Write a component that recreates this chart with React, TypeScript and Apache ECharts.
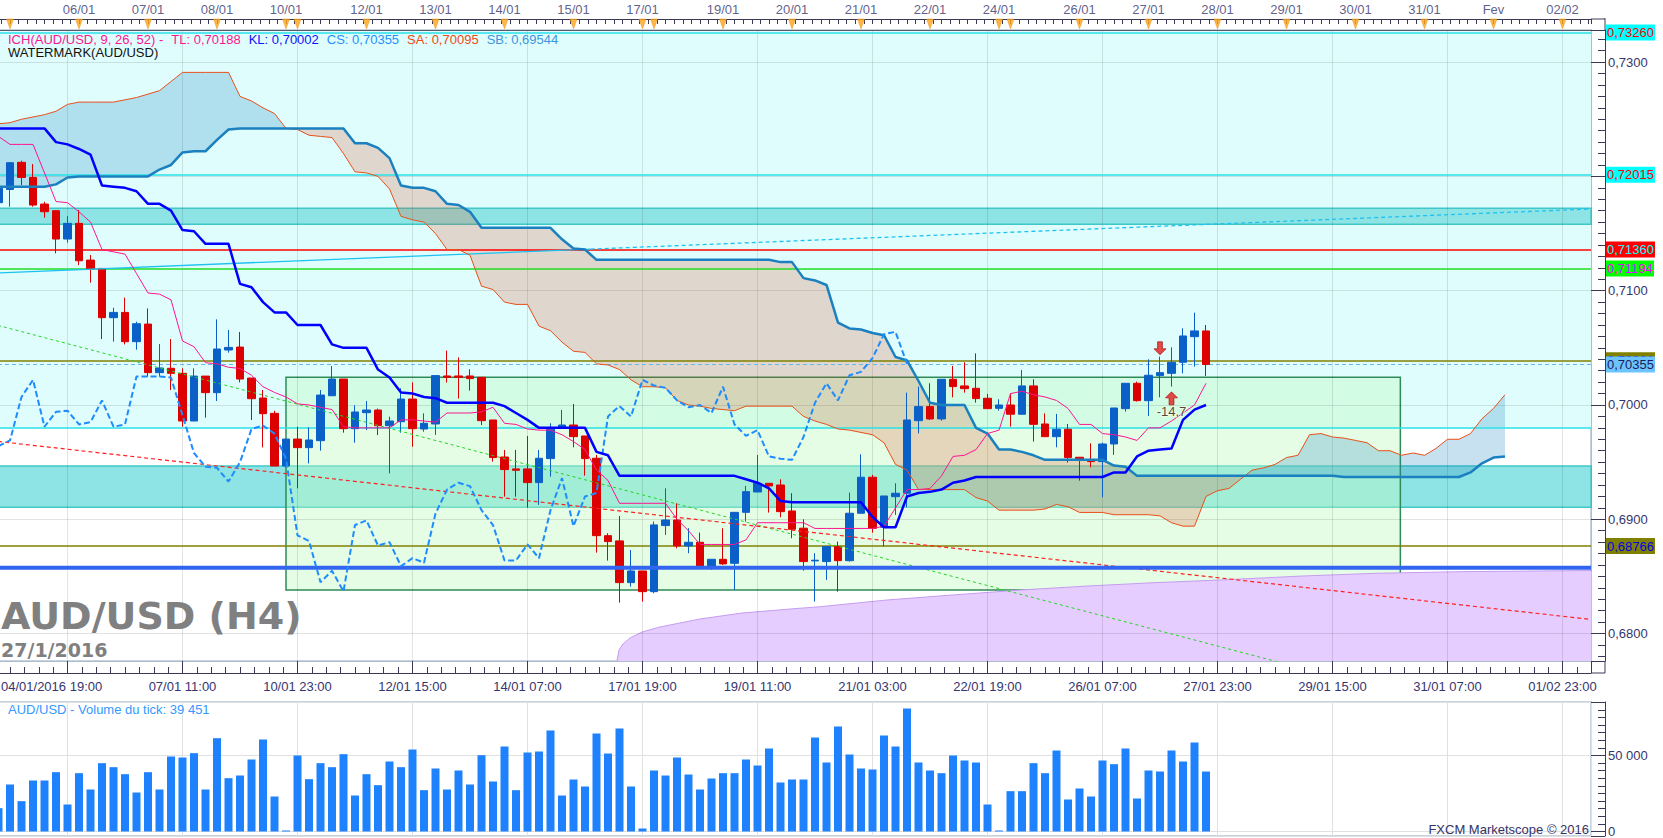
import React, { useEffect, useRef } from "react";
import * as echarts from "echarts";

// ---------------- data ----------------
// candle index of the first (partly hidden) candle
const FIRST_BAR = -1;

const candleOpen = [
  0.7177, 0.71886, 0.72123, 0.71991, 0.71758, 0.717, 0.71452, 0.71589, 0.71268, 0.71195,
  0.70764, 0.7081, 0.70554, 0.70708, 0.70283, 0.70321, 0.70277, 0.6986, 0.70253, 0.70108,
  0.70481, 0.70507, 0.70236, 0.70061, 0.69927, 0.69466, 0.69702, 0.69627, 0.69688, 0.70081,
  0.70227, 0.69793, 0.69933, 0.69956, 0.69819, 0.69854, 0.70052, 0.6979, 0.69834, 0.70254,
  0.70254, 0.70254, 0.70242, 0.69869, 0.69545, 0.69441, 0.69441, 0.69321, 0.69531, 0.69796,
  0.69825, 0.69729, 0.69534, 0.68857, 0.68811, 0.68446, 0.68548, 0.68367, 0.68945, 0.68994,
  0.68767, 0.68799, 0.68592, 0.6865, 0.68615, 0.69061, 0.69239, 0.69315, 0.693, 0.69073,
  0.68922, 0.68636, 0.6863, 0.68761, 0.68638, 0.69053, 0.69368, 0.6893, 0.69198, 0.69228,
  0.69863, 0.69986, 0.69878, 0.70225, 0.70167, 0.70146, 0.70059, 0.69971, 0.7, 0.69919,
  0.70167, 0.69834, 0.69723, 0.69788, 0.69543, 0.69519, 0.69505, 0.69659, 0.69968, 0.7019,
  0.70038, 0.70257, 0.70277, 0.70374, 0.70598, 0.70648,
];
const candleClose = [
  0.71895, 0.7212, 0.71991, 0.71749, 0.71691, 0.71452, 0.71589, 0.71262, 0.7119, 0.70764,
  0.7081, 0.70554, 0.70711, 0.70283, 0.70324, 0.70277, 0.6986, 0.70253, 0.70108, 0.7049,
  0.70504, 0.70227, 0.70055, 0.69924, 0.69466, 0.69702, 0.69627, 0.69694, 0.70087, 0.70227,
  0.69793, 0.69939, 0.69956, 0.69819, 0.6986, 0.70052, 0.69793, 0.6984, 0.70257, 0.70242,
  0.70242, 0.70231, 0.69863, 0.6954, 0.69435, 0.69429, 0.69321, 0.69534, 0.69788, 0.69825,
  0.69723, 0.69531, 0.68857, 0.68805, 0.68446, 0.68548, 0.68367, 0.68951, 0.68994, 0.68767,
  0.68799, 0.68592, 0.6865, 0.6861, 0.69061, 0.69242, 0.69315, 0.69292, 0.69067, 0.68913,
  0.6863, 0.68642, 0.68761, 0.68638, 0.69053, 0.69368, 0.68921, 0.69204, 0.69228, 0.69869,
  0.69986, 0.69878, 0.70225, 0.70161, 0.70143, 0.70056, 0.69968, 0.7, 0.69919, 0.70167,
  0.69831, 0.69723, 0.69788, 0.6954, 0.69525, 0.69505, 0.69659, 0.69974, 0.7019, 0.70038,
  0.7026, 0.70283, 0.70374, 0.70604, 0.70648, 0.70355,
];
const candleLow = [
  0.7172, 0.71735, 0.71924, 0.71735, 0.71639, 0.71327, 0.7142, 0.71224, 0.7107, 0.70577,
  0.70554, 0.7053, 0.70484, 0.70248, 0.70248, 0.70131, 0.6981, 0.6986, 0.69889, 0.70035,
  0.70458, 0.70198, 0.69869, 0.69629, 0.69466, 0.69466, 0.69271, 0.69489, 0.696, 0.70081,
  0.69758, 0.6967, 0.69781, 0.69737, 0.69402, 0.69758, 0.69635, 0.69767, 0.69738, 0.70196,
  0.70056, 0.70126, 0.69825, 0.69505, 0.69198, 0.69198, 0.69102, 0.69126, 0.69373, 0.69796,
  0.6963, 0.69382, 0.68708, 0.68639, 0.68271, 0.68411, 0.6828, 0.68353, 0.68863, 0.68746,
  0.68703, 0.68592, 0.68557, 0.68601, 0.68382, 0.6898, 0.69239, 0.69059, 0.69018, 0.68834,
  0.68551, 0.6828, 0.6847, 0.68367, 0.6863, 0.69053, 0.68883, 0.68761, 0.69038, 0.69105,
  0.69752, 0.69869, 0.69863, 0.70067, 0.70108, 0.70021, 0.69968, 0.69951, 0.69811, 0.69919,
  0.6968, 0.69723, 0.6963, 0.69496, 0.69338, 0.69455, 0.69193, 0.69563, 0.69942, 0.7003,
  0.69904, 0.70067, 0.70161, 0.70277, 0.70336, 0.70254,
];
const candleHigh = [
  0.7192, 0.72125, 0.72137, 0.72108, 0.71778, 0.717, 0.71653, 0.71706, 0.71312, 0.71195,
  0.70851, 0.70939, 0.70729, 0.70845, 0.70533, 0.70577, 0.70321, 0.70321, 0.70253, 0.70749,
  0.70656, 0.70638, 0.70236, 0.70131, 0.6995, 0.69702, 0.6981, 0.69805, 0.70131, 0.70341,
  0.70227, 0.69997, 0.70035, 0.69968, 0.69898, 0.70146, 0.70198, 0.69927, 0.70257, 0.70476,
  0.70417, 0.70312, 0.70242, 0.69869, 0.69607, 0.69607, 0.69729, 0.69607, 0.6984, 0.69957,
  0.70009, 0.69729, 0.69563, 0.68878, 0.69029, 0.68732, 0.68548, 0.6898, 0.69271, 0.6914,
  0.68922, 0.68884, 0.6865, 0.68922, 0.69061, 0.69292, 0.69563, 0.69315, 0.6935, 0.69228,
  0.69, 0.68703, 0.68761, 0.68805, 0.69234, 0.69569, 0.69388, 0.69204, 0.69315, 0.70108,
  0.70161, 0.7019, 0.70225, 0.70342, 0.70374, 0.70452, 0.70097, 0.7005, 0.70102, 0.70307,
  0.70225, 0.69927, 0.69922, 0.69834, 0.69543, 0.69665, 0.69671, 0.69974, 0.7019, 0.70205,
  0.704, 0.70423, 0.70505, 0.70671, 0.70808, 0.707,
];
const tickVolume = [
  15350, 30920, 19960, 33550, 33550, 39040, 17760, 38380, 27630, 44960,
  42320, 37720, 25660, 39040, 27630, 49340, 48680, 51540, 27630, 61400,
  35090, 36840, 47370, 60530, 23030, 660, 50000, 34430, 44960, 42320,
  50880, 23680, 37720, 30480, 46050, 42320, 53950, 27190, 41450, 27630,
  40130, 30920, 50220, 32900, 55920, 27190, 51970, 52630, 66450, 23680,
  34210, 29610, 64470, 51320, 67760, 29610, 1970, 40130, 36840, 48680,
  37500, 27630, 34870, 38380, 38380, 47370, 43420, 54610, 32240, 34210,
  34210, 61840, 45400, 69080, 50660, 41450, 40790, 63160, 55920, 80920,
  45400, 40130, 38380, 50000, 46710, 45400, 17760, 660, 26540, 26540,
  44960, 38380, 53290, 21050, 28290, 23030, 46710, 44300, 54610, 21710,
  40130, 39470, 53290, 46050, 58550, 39451,
];
const tenkanSen = [
  0.7235, 0.7228, 0.7228, 0.7228, 0.7203, 0.7178, 0.7177, 0.7169, 0.716, 0.7136,
  0.7134, 0.7132, 0.7115, 0.7098, 0.7097, 0.7092, 0.7056, 0.7051, 0.7037, 0.7036,
  0.7033, 0.7032, 0.7026, 0.7016, 0.7011, 0.7007, 0.7001, 0.7, 0.6998, 0.6996,
  0.6981, 0.698, 0.698, 0.698, 0.698, 0.6987, 0.6987, 0.6986, 0.6985, 0.6993,
  0.6993, 0.6993, 0.6994, 0.6998, 0.6984, 0.6983, 0.6979, 0.6978, 0.6978, 0.6974,
  0.6968, 0.6961, 0.6943, 0.6934, 0.6914, 0.6914, 0.6914, 0.6914, 0.6914, 0.69,
  0.689, 0.6878, 0.6878, 0.6878, 0.6878, 0.6882, 0.6897, 0.6897, 0.6897, 0.6897,
  0.6897, 0.6892, 0.6892, 0.6892, 0.6892, 0.6892, 0.6892, 0.6894, 0.691, 0.6926,
  0.6926, 0.6927, 0.6938, 0.6955, 0.6956, 0.6961, 0.6975, 0.6978, 0.701, 0.7012,
  0.7009, 0.7007, 0.7004, 0.6997, 0.6983, 0.6983, 0.6975, 0.6974, 0.6972, 0.6969,
  0.698, 0.698, 0.6986, 0.6993, 0.7, 0.7019,
];
const kijunSen = [
  0.7242, 0.7242, 0.7242, 0.7242, 0.7242, 0.723, 0.7228, 0.7224, 0.7219, 0.7192,
  0.7191, 0.719, 0.7187, 0.7176, 0.7176, 0.717, 0.7153, 0.7152, 0.7141, 0.7141,
  0.7141, 0.7106, 0.7103, 0.709, 0.7081, 0.7081, 0.707, 0.707, 0.707, 0.7053,
  0.705, 0.705, 0.705, 0.7031, 0.7024, 0.7011, 0.701, 0.7007, 0.7006, 0.7002,
  0.7002, 0.7002, 0.7002, 0.7002, 0.6999, 0.6993, 0.6987, 0.698, 0.698, 0.698,
  0.698, 0.698, 0.6959, 0.6956, 0.6938, 0.6938, 0.6938, 0.6938, 0.6938, 0.6938,
  0.6938, 0.6938, 0.6938, 0.6938, 0.6938, 0.6935, 0.6932, 0.6927, 0.6916, 0.6915,
  0.6915, 0.6915, 0.6915, 0.6915, 0.6915, 0.6915, 0.6902, 0.6893, 0.6893, 0.692,
  0.6923, 0.6924, 0.6926, 0.6932, 0.6934, 0.6937, 0.6937, 0.6937, 0.6937, 0.6937,
  0.6937, 0.6937, 0.6937, 0.6937, 0.6937, 0.6937, 0.6937, 0.6941, 0.6941, 0.6955,
  0.696, 0.6961, 0.6962, 0.6987, 0.6996, 0.7,
];
const chikouSpan = [
  0.6964, 0.6969, 0.7007, 0.7022, 0.6981, 0.6994, 0.6995, 0.6983, 0.6985, 0.7004,
  0.6981, 0.6983, 0.7025, 0.7025, 0.7025, 0.7024, 0.6991, 0.6958, 0.6946, 0.6945,
  0.6933, 0.695, 0.6979, 0.6982, 0.6975, 0.6953, 0.6886, 0.6881, 0.6845, 0.6855,
  0.6837, 0.6895, 0.6899, 0.6877, 0.688, 0.6859, 0.6866, 0.6862, 0.6905, 0.6926,
  0.6932, 0.6929, 0.6908, 0.6895, 0.6864, 0.6864, 0.6878, 0.6866, 0.6908, 0.6936,
  0.6894, 0.692, 0.6923, 0.699, 0.6999, 0.699, 0.7022, 0.7017, 0.7015, 0.7004,
  0.6998, 0.7, 0.6993, 0.7016, 0.6983, 0.6973, 0.6978, 0.6955, 0.6953, 0.6952,
  0.6972, 0.7002, 0.7019, 0.7004, 0.7026, 0.7029, 0.7041, 0.7062, 0.7064, 0.7036,
];
const senkouA = [
  0.7246, 0.7247, 0.725, 0.7252, 0.7254, 0.7257, 0.7263, 0.7265, 0.7265, 0.7265,
  0.7265, 0.7267, 0.7269, 0.7272, 0.7275, 0.7283, 0.7291, 0.7291, 0.7291, 0.7291,
  0.7291, 0.727, 0.7266, 0.726, 0.7255, 0.7242, 0.7241, 0.7236, 0.7235, 0.7234,
  0.722, 0.7204, 0.7203, 0.72, 0.7189, 0.7165, 0.7162, 0.716, 0.715, 0.7136,
  0.7136, 0.7131, 0.7104, 0.7101, 0.709, 0.7088, 0.7088, 0.7069, 0.7065, 0.7055,
  0.7047, 0.7046, 0.7036, 0.7035, 0.7031, 0.7022, 0.7016, 0.7016, 0.7015, 0.7004,
  0.7, 0.6999, 0.6997, 0.6996, 0.6995, 0.6999, 0.6999, 0.6999, 0.6999, 0.6999,
  0.699, 0.6986, 0.6983, 0.6979, 0.6978, 0.6976, 0.6974, 0.6967, 0.6948, 0.6943,
  0.6926, 0.6926, 0.6926, 0.6926, 0.6926, 0.6919, 0.6916, 0.6908, 0.6908, 0.6908,
  0.6908, 0.6909, 0.6913, 0.6911, 0.6906, 0.6906, 0.6906, 0.6904, 0.6904, 0.6904,
  0.6904, 0.6903, 0.6897, 0.6894, 0.6894, 0.692, 0.6925, 0.6927, 0.6935, 0.6943,
  0.6945, 0.6948, 0.6954, 0.6956, 0.6974, 0.6975, 0.6972, 0.6971, 0.6969, 0.6967,
  0.696, 0.696, 0.6956, 0.6958, 0.6956, 0.6962, 0.697, 0.697, 0.6975, 0.6988,
  0.6997, 0.7009,
];
const senkouB = [
  0.7191, 0.7191, 0.7191, 0.7191, 0.7191, 0.7193, 0.7199, 0.72, 0.72, 0.72,
  0.72, 0.72, 0.72, 0.72, 0.7206, 0.721, 0.7221, 0.7222, 0.7222, 0.7232,
  0.7241, 0.7242, 0.7242, 0.7242, 0.7242, 0.7242, 0.7242, 0.7242, 0.7242, 0.7242,
  0.7242, 0.7229, 0.7229, 0.7225, 0.7216, 0.7192, 0.719, 0.719, 0.7187, 0.7176,
  0.7175, 0.7169, 0.7155, 0.7155, 0.7155, 0.7155, 0.7155, 0.7155, 0.7155, 0.7145,
  0.7137, 0.7136, 0.7127, 0.7127, 0.7127, 0.7127, 0.7127, 0.7127, 0.7127, 0.7127,
  0.7127, 0.7127, 0.7127, 0.7127, 0.7127, 0.7127, 0.7127, 0.7127, 0.7125, 0.7125,
  0.7111, 0.7109, 0.7105, 0.7072, 0.7067, 0.7066, 0.7063, 0.7061, 0.7042, 0.7039,
  0.7021, 0.7002, 0.7, 0.7, 0.7, 0.698, 0.6975, 0.6961, 0.6961, 0.6959,
  0.6956, 0.6952, 0.6952, 0.6952, 0.6952, 0.6952, 0.6952, 0.6947, 0.6946, 0.6938,
  0.6938, 0.6938, 0.6938, 0.6938, 0.6938, 0.6938, 0.6938, 0.6938, 0.6938, 0.6938,
  0.6938, 0.6938, 0.6938, 0.6938, 0.6938, 0.6938, 0.6938, 0.6937, 0.6937, 0.6937,
  0.6937, 0.6937, 0.6937, 0.6937, 0.6937, 0.6937, 0.6937, 0.6937, 0.6941, 0.6949,
  0.6954, 0.6955,
];

// day markers of the upper time scale (candle index of each day's first candle)
const dayStartBars = [0, 6, 12, 18, 24, 25, 31, 37, 43, 49, 55, 56, 62, 68, 74, 80, 86, 87, 93, 99, 105, 111, 117, 123, 129, 135];
const dayLabels = ["", "06/01", "07/01", "08/01", "10/01", "", "12/01", "13/01", "14/01", "15/01", "17/01", "", "19/01", "20/01", "21/01", "22/01", "24/01", "", "26/01", "27/01", "28/01", "29/01", "30/01", "31/01", "Fev", "02/02"];
// lower time scale labels, one every 10 candles starting at candle 5
const firstTimeLabel = "04/01/2016 19:00";
const timeLabels = ["", "07/01 11:00", "10/01 23:00", "12/01 15:00", "14/01 07:00", "17/01 19:00", "19/01 11:00", "21/01 03:00", "22/01 19:00", "26/01 07:00", "27/01 23:00", "29/01 15:00", "31/01 07:00", "01/02 23:00"];

// horizontal levels
const levelPrice = [0.7326, 0.72015, 0.698, 0.7136, 0.71194, 0.70391, 0.68766];
const levelHasLabel = [true, true, false, true, true, true, true];
const currentPrice = 0.70355;
const bandTop = [0.71721, 0.69466];
const bandBottom = [0.71581, 0.69105];
const zoneBottom = 0.698;
const blueLevel = 0.68577;

// trend lines [startBar, endBar] / [startPrice, endPrice]
const greenTrendBars = [-1.04, 137.48];
const greenTrendPrices = [0.70696, 0.67032];
const redTrendBars = [-1.04, 137.48];
const redTrendPrices = [0.69681, 0.68124];
const cyanTrendBars = [-1.04, 50.5, 137.48];
const cyanTrendPrices = [0.71156, 0.71364, 0.71715];

// watermark box and curved zone
const boxBars = [24, 120.9];
const boxPrices = [0.70242, 0.68381];
const purpleBars = [52.78, 52.96, 53.3, 53.91, 54.96, 56.52, 60, 63.65, 68.43, 70.43, 76.26, 82, 87.83, 93.65, 99.39, 105.22, 112.43, 118.87, 126.35, 137.83];
const purplePrices = [0.6776, 0.67856, 0.67909, 0.67961, 0.68014, 0.68058, 0.68128, 0.6818, 0.6822, 0.68235, 0.68294, 0.68338, 0.68381, 0.68416, 0.68445, 0.68469, 0.68504, 0.68528, 0.68542, 0.68552];

// signal arrows
const arrowDownBar = 100;
const arrowDownPrice = 0.70496;
const arrowUpBar = 101;
const arrowUpPrice = 0.70058;
const arrowText = "-14,7";

// ---------------- layout ----------------
const GRID_LEFT = -2;
const GRID_RIGHT = 72;
const PX0 = 10; // centre of candle 0
const PXW = 11.5; // candle spacing
const I_MIN = (GRID_LEFT - PX0) / PXW;
const I_MAX = (1663 - GRID_RIGHT - PX0) / PXW;
const U_OFF = 5;
const U_MIN = I_MIN + U_OFF;
const U_MAX = I_MAX + U_OFF;
const Y_MIN = 0.677603;
const Y_MAX = 0.732808;
const VOL_MIN = -2960;
const VOL_MAX = 85200;

const FONT = "Liberation Sans";
const AXC = "#3a3a58";
const LBL = "#35356e";
const BULL = "rgba(26,128,192,0.24)";
const BEAR = "rgba(224,72,27,0.21)";

const u = (i: number) => i + U_OFF;
const barU = (k: number) => u(FIRST_BAR + k);
const series2 = (arr: number[]) => arr.map((v, k) => [barU(k), v]);
const pairs = (bars: number[], prices: number[]) => bars.map((b, k) => [u(b), prices[k]]);

function fmtPrice(v: number) {
  const r = Math.round(v * 100) / 100;
  if (Math.abs(v - r) > 1e-7 || Math.abs(r - 0.72) < 1e-7) return "";
  return r.toFixed(4).replace(".", ",");
}
function fmtTime(v: number) {
  const k = Math.round(v / 10);
  if (Math.abs(v - k * 10) > 1e-6) return "";
  return timeLabels[k - 1] ?? "";
}
const p5 = (p: number) => p.toFixed(5).replace(".", ",");

function cloudRuns() {
  const runs: { sign: number; a: number[][]; b: number[][] }[] = [];
  let cur: { sign: number; a: number[][]; b: number[][] } | null = null;
  for (let k = 0; k < senkouA.length; k++) {
    const x = barU(k);
    const a = senkouA[k];
    const b = senkouB[k];
    const d = a - b;
    const s = d > 1e-9 ? 1 : d < -1e-9 ? -1 : 0;
    if (!cur) {
      cur = { sign: s, a: [[x, a]], b: [[x, b]] };
      continue;
    }
    if (cur.sign === 0) cur.sign = s;
    if (s !== 0 && cur.sign !== 0 && s !== cur.sign) {
      const x0 = barU(k - 1);
      const a0 = senkouA[k - 1];
      const d0 = a0 - senkouB[k - 1];
      const t = d0 / (d0 - d);
      const xc = x0 + t * (x - x0);
      const pc = a0 + t * (a - a0);
      cur.a.push([xc, pc]);
      cur.b.push([xc, pc]);
      runs.push(cur);
      cur = { sign: s, a: [[xc, pc], [x, a]], b: [[xc, pc], [x, b]] };
    } else {
      cur.a.push([x, a]);
      cur.b.push([x, b]);
    }
  }
  if (cur) runs.push(cur);
  return runs;
}

function buildOption(): any {
  const levelLine = ["#28e0e8", "#28e0e8", "#28e0e8", "#ff0000", "#22dd22", "#808000", "#808000"];
  const levelBg = ["#00ffff", "#00ffff", "", "#ff0000", "#00ff00", "#808000", "#808000"];
  const levelFg = ["#ff0000", "#ff0000", "", "#00ffff", "#ff00ff", "#0000ff", "#0000ee"];
  const mkLabel = (text: string, bg: string, fg: string) => ({
    show: true,
    position: "end",
    distance: 15,
    formatter: text,
    backgroundColor: bg,
    color: fg,
    padding: [2, 1, 1, 1],
    fontSize: 13,
    lineHeight: 13,
    fontFamily: FONT,
  });

  const titleStyle = (color: string, size = 13, weight = "normal", family = FONT) => ({
    color,
    fontSize: size,
    lineHeight: size,
    fontWeight: weight,
    fontFamily: family,
  });
  const axisLine = (x1: number, y1: number, x2: number, y2: number) => ({
    type: "line",
    silent: true,
    z: 20,
    shape: { x1, y1, x2, y2 },
    style: { stroke: AXC, lineWidth: 1 },
  });

  return {
    animation: false,
    backgroundColor: "#ffffff",
    textStyle: { fontFamily: FONT },
    title: [
      {
        left: 8,
        top: 33,
        padding: 0,
        text: "{p|ICH(AUD/USD, 9, 26, 52) -}{t|TL: 0,70188}{k|KL: 0,70002}{c|CS: 0,70355}{a|SA: 0,70095}{b|SB: 0,69544}",
        textStyle: {
          fontSize: 13,
          lineHeight: 13,
          fontWeight: "normal",
          rich: {
            p: titleStyle("#ff1493"),
            t: { ...titleStyle("#ff1493"), padding: [0, 0, 0, 8] },
            k: { ...titleStyle("#1010ff"), padding: [0, 0, 0, 8] },
            c: { ...titleStyle("#1e90ff"), padding: [0, 0, 0, 8] },
            a: { ...titleStyle("#f04a10"), padding: [0, 0, 0, 8] },
            b: { ...titleStyle("#3c96dc"), padding: [0, 0, 0, 8] },
          },
        },
      },
      { left: 8, top: 46, padding: 0, text: "WATERMARK(AUD/USD)", textStyle: titleStyle("#111111") },
      { left: 1, top: 597, padding: 0, text: "AUD/USD (H4)", textStyle: titleStyle("#808080", 38, "bold", "DejaVu Sans") },
      { left: 1, top: 640, padding: 0, text: "27/1/2016", textStyle: titleStyle("#808080", 19, "bold", "DejaVu Sans") },
      { left: 1, top: 680, padding: 0, text: firstTimeLabel, textStyle: titleStyle(LBL) },
      { left: 8, top: 703, padding: 0, text: "AUD/USD - Volume du tick: 39 451", textStyle: titleStyle("#3399ff") },
      { right: 74, top: 823, padding: 0, text: "FXCM Marketscope © 2016", textStyle: titleStyle("#333366") },
    ],
    graphic: [
      axisLine(1605, 18, 1605, 30),
      axisLine(1605, 661, 1605, 673),
      axisLine(1591, 673, 1605, 673),
      axisLine(1591, 19, 1605, 19),
    ],
    grid: [
      { left: GRID_LEFT, right: GRID_RIGHT, top: 30, bottom: 177, show: true, borderColor: "#c6d4e2", borderWidth: 2, backgroundColor: "transparent", outerBoundsMode: "none", containLabel: false },
      { left: GRID_LEFT, right: GRID_RIGHT, top: 702, bottom: 2, show: true, borderColor: "#c6d4e2", borderWidth: 2, backgroundColor: "transparent", outerBoundsMode: "none", containLabel: false },
    ],
    xAxis: [
      {
        type: "value", gridIndex: 0, position: "bottom", offset: 12, min: U_MIN, max: U_MAX, z: 3,
        splitNumber: 14, minInterval: 10, maxInterval: 10,
        axisLine: { show: true, onZero: false, lineStyle: { color: AXC, width: 1 } },
        axisTick: { show: true, inside: true, length: 12, lineStyle: { color: AXC } },
        minorTick: { show: true, splitNumber: 8, length: 6, lineStyle: { color: AXC } },
        axisLabel: { show: true, margin: 7, color: LBL, fontSize: 13, fontFamily: FONT, formatter: fmtTime, showMinLabel: true, showMaxLabel: true },
        splitLine: { show: true, lineStyle: { color: "rgba(0,0,0,0.11)", width: 1 } },
        minorSplitLine: { show: false },
      },
      {
        type: "value", gridIndex: 0, position: "top", offset: 11, min: I_MIN, max: I_MAX, z: 3,
        splitNumber: 184, minInterval: 0.75, maxInterval: 0.75,
        axisLine: { show: true, onZero: false, lineStyle: { color: AXC, width: 1 } },
        axisTick: { show: true, inside: true, length: 5, lineStyle: { color: AXC } },
        axisLabel: { show: false },
        splitLine: { show: false },
      },
      {
        type: "value", gridIndex: 0, position: "top", offset: 0, min: I_MIN, max: I_MAX, z: 3,
        axisLine: { show: true, onZero: false, lineStyle: { color: "#5a5a6a", width: 1 } },
        axisTick: { show: false },
        axisLabel: { show: false },
        splitLine: { show: false },
      },
      {
        type: "value", gridIndex: 1, position: "bottom", min: U_MIN, max: U_MAX, z: 3,
        splitNumber: 14, minInterval: 10, maxInterval: 10,
        axisLine: { show: false },
        axisTick: { show: false },
        axisLabel: { show: false },
        splitLine: { show: true, lineStyle: { color: "#e0e0e0", width: 1 } },
      },
    ],
    yAxis: [
      {
        type: "value", gridIndex: 0, position: "right", offset: 14, min: Y_MIN, max: Y_MAX, z: 3,
        splitNumber: 5, minInterval: 0.01, maxInterval: 0.01,
        axisLine: { show: true, onZero: false, lineStyle: { color: AXC, width: 1 } },
        axisTick: { show: true, inside: true, length: 14, lineStyle: { color: AXC } },
        minorTick: { show: true, splitNumber: 10, length: 7, lineStyle: { color: AXC } },
        axisLabel: { show: true, margin: 3, color: LBL, fontSize: 13, fontFamily: FONT, formatter: fmtPrice, showMinLabel: false, showMaxLabel: false },
        splitLine: { show: true, lineStyle: { color: "rgba(0,0,0,0.11)", width: 1 } },
      },
      {
        type: "value", gridIndex: 1, position: "right", offset: 14, min: VOL_MIN, max: VOL_MAX, z: 3,
        splitNumber: 2, minInterval: 50000, maxInterval: 50000,
        axisLine: { show: true, onZero: false, lineStyle: { color: AXC, width: 1 } },
        axisTick: { show: true, inside: true, length: 14, lineStyle: { color: AXC } },
        minorTick: { show: true, splitNumber: 10, length: 7, lineStyle: { color: AXC } },
        axisLabel: {
          show: true, margin: 3, color: LBL, fontSize: 13, fontFamily: FONT, showMinLabel: false, showMaxLabel: false,
          formatter: (v: number) => (Math.abs(v) < 1e-6 ? "0" : Math.abs(v - 50000) < 1e-6 ? "50 000" : ""),
        },
        splitLine: { show: true, lineStyle: { color: "#e0e0e0", width: 1 } },
      },
    ],
    series: [
      // background zones
      {
        type: "line", name: "zones", xAxisIndex: 0, yAxisIndex: 0, data: [], z: 0, silent: true,
        markArea: {
          silent: true,
          data: [
            [{ yAxis: zoneBottom, itemStyle: { color: "#e0fdfd" } }, { yAxis: Y_MAX }],
            ...bandTop.map((t, k) => [
              { yAxis: t, itemStyle: { color: "#8ee4e4", borderColor: "#40c8c8", borderWidth: 1.5 } },
              { yAxis: bandBottom[k] },
            ]),
          ],
        },
      },
      // curved zone
      {
        type: "line", name: "curve", xAxisIndex: 0, yAxisIndex: 0, z: 1, silent: true,
        data: pairs(purpleBars, purplePrices), symbol: "none",
        lineStyle: { color: "#c59cf0", width: 1 },
        areaStyle: { color: "#e6cdff", opacity: 1, origin: "start" },
      },
      // watermark box
      {
        type: "line", name: "box", xAxisIndex: 0, yAxisIndex: 0, data: [], z: 2, silent: true,
        markArea: {
          silent: true,
          data: [[
            { xAxis: u(boxBars[0]), yAxis: boxPrices[0], itemStyle: { color: "rgba(190,250,190,0.4)", borderColor: "#2e8b57", borderWidth: 1.5 } },
            { xAxis: u(boxBars[1]), yAxis: boxPrices[1] },
          ]],
        },
      },
      // kumo fill
      {
        type: "custom", name: "kumo", xAxisIndex: 0, yAxisIndex: 0, z: 4, silent: true,
        data: senkouA.map((a, k) => [barU(k), a, senkouB[k]]),
        encode: { x: 0, y: [1, 2] },
        renderItem: (params: any, api: any) => {
          if (params.dataIndex !== 0) return null;
          const runs = cloudRuns();
          return {
            type: "group",
            children: runs.map((r) => ({
              type: "polygon",
              shape: { points: [...r.a, ...r.b.slice().reverse()].map((pt) => api.coord(pt)) },
              style: { fill: r.sign >= 0 ? BULL : BEAR, stroke: null },
            })),
          };
        },
      },
      // candles
      {
        type: "candlestick", name: "AUD/USD", xAxisIndex: 0, yAxisIndex: 0, z: 5, silent: true,
        barWidth: 8,
        data: candleOpen.map((o, k) => [barU(k), o, candleClose[k], candleLow[k], candleHigh[k]]),
        itemStyle: { color: "#0b60c8", color0: "#dd0000", borderColor: "#0b60c8", borderColor0: "#dd0000", borderWidth: 1 },
      },
      // trend lines
      {
        type: "line", name: "green trend", xAxisIndex: 0, yAxisIndex: 0, z: 6, silent: true, symbol: "none",
        data: pairs(greenTrendBars, greenTrendPrices),
        lineStyle: { color: "#22d622", width: 1, type: [3, 3] },
      },
      {
        type: "line", name: "red trend", xAxisIndex: 0, yAxisIndex: 0, z: 6, silent: true, symbol: "none",
        data: pairs(redTrendBars, redTrendPrices),
        lineStyle: { color: "#ff2020", width: 1.2, type: [4, 3] },
      },
      {
        type: "line", name: "cyan trend", xAxisIndex: 0, yAxisIndex: 0, z: 6, silent: true, symbol: "none",
        data: pairs(cyanTrendBars.slice(0, 2), cyanTrendPrices.slice(0, 2)),
        lineStyle: { color: "#1ec2f2", width: 1.3 },
      },
      {
        type: "line", name: "cyan trend ext", xAxisIndex: 0, yAxisIndex: 0, z: 6, silent: true, symbol: "none",
        data: pairs(cyanTrendBars.slice(1), cyanTrendPrices.slice(1)),
        lineStyle: { color: "#1ec2f2", width: 1.3, type: [4, 3] },
      },
      {
        type: "line", name: "blue level", xAxisIndex: 0, yAxisIndex: 0, z: 6, silent: true, symbol: "none",
        data: [[U_MIN, blueLevel], [U_MAX, blueLevel]],
        lineStyle: { color: "#3366f0", width: 4 },
      },
      // ichimoku lines
      {
        type: "line", name: "SA", xAxisIndex: 0, yAxisIndex: 0, z: 7, silent: true, symbol: "none",
        data: series2(senkouA), lineStyle: { color: "#e8501a", width: 1 },
      },
      {
        type: "line", name: "SB", xAxisIndex: 0, yAxisIndex: 0, z: 7, silent: true, symbol: "none",
        data: series2(senkouB), lineStyle: { color: "#1a80c0", width: 2.5 },
      },
      {
        type: "line", name: "CS", xAxisIndex: 0, yAxisIndex: 0, z: 7, silent: true, symbol: "none",
        data: series2(chikouSpan), lineStyle: { color: "#1e8cff", width: 2, type: [6, 3] },
      },
      {
        type: "line", name: "TL", xAxisIndex: 0, yAxisIndex: 0, z: 7, silent: true, symbol: "none",
        data: series2(tenkanSen), lineStyle: { color: "#ff1493", width: 1 },
      },
      {
        type: "line", name: "KL", xAxisIndex: 0, yAxisIndex: 0, z: 7, silent: true, symbol: "none",
        data: series2(kijunSen), lineStyle: { color: "#0000ff", width: 2.5 },
      },
      // horizontal levels with price tags
      {
        type: "line", name: "levels", xAxisIndex: 0, yAxisIndex: 0, data: [], z: 9, silent: true,
        markLine: {
          silent: true, symbol: ["none", "none"], animation: false, precision: 6,
          data: levelPrice.map((p, k) => ({
            yAxis: p,
            lineStyle: { color: levelLine[k], width: 1.5, type: "solid" },
            label: levelHasLabel[k] ? mkLabel(p5(p), levelBg[k], levelFg[k]) : { show: false },
          })),
        },
      },
      {
        type: "line", name: "current", xAxisIndex: 0, yAxisIndex: 0, data: [], z: 10, silent: true,
        markLine: {
          silent: true, symbol: ["none", "none"], animation: false, precision: 6,
          data: [{ yAxis: currentPrice, lineStyle: { color: "#66b8ee", width: 1, type: [4, 3] }, label: mkLabel(p5(currentPrice), "#6cc4ff", "#1c1c5c") }],
        },
      },
      // signal arrows
      {
        type: "scatter", name: "signals", xAxisIndex: 0, yAxisIndex: 0, z: 11, silent: true, clip: false,
        data: [
          {
            value: [u(arrowDownBar), arrowDownPrice],
            symbol: "path://M3,0 L7,0 L7,7 L10,7 L5,13 L0,7 L3,7 Z",
            label: { show: false },
          },
          {
            value: [u(arrowUpBar), arrowUpPrice],
            symbol: "path://M5,0 L10,6 L7,6 L7,13 L3,13 L3,6 L0,6 Z",
            label: { show: true, position: "bottom", distance: 0, formatter: arrowText, color: "#1a1a1a", fontSize: 13, fontFamily: FONT, textBorderColor: "rgba(255,255,220,0.8)", textBorderWidth: 2 },
          },
        ],
        symbolSize: [12, 13],
        itemStyle: { color: "#e41c1c", borderColor: "#a00000", borderWidth: 0.8 },
      },
      // day markers of the upper scale
      {
        type: "scatter", name: "days", xAxisIndex: 1, yAxisIndex: 0, z: 11, silent: true, clip: false,
        data: dayStartBars.map((b) => [b, Y_MAX]),
        symbol: "path://M0,0 L10,0 L5,10 Z",
        symbolSize: [7, 10],
        symbolOffset: [0, -6],
        itemStyle: { color: "#ffa41c", borderColor: "#e08a00", borderWidth: 0.5 },
        label: { show: false },
      },
      {
        type: "scatter", name: "dayLabels", xAxisIndex: 1, yAxisIndex: 0, z: 11, silent: true, clip: false,
        data: dayStartBars.map((b) => [b, Y_MAX]),
        symbol: "circle",
        symbolSize: 1,
        itemStyle: { color: "rgba(0,0,0,0)" },
        label: {
          show: true, position: "inside", offset: [0, -21], color: LBL, fontSize: 13, fontFamily: FONT,
          textBorderWidth: 0, formatter: (p: any) => dayLabels[p.dataIndex],
        },
      },
      // volume
      {
        type: "bar", name: "volume", xAxisIndex: 3, yAxisIndex: 1, z: 4, silent: true,
        barWidth: 8,
        data: series2(tickVolume),
        itemStyle: { color: "#1e82ff" },
      },
    ],
  };
}

export default function App() {
  const ref = useRef<HTMLDivElement | null>(null);
  useEffect(() => {
    if (!ref.current) return;
    const chart = echarts.init(ref.current, undefined, { renderer: "svg" });
    chart.setOption(buildOption());
    return () => chart.dispose();
  }, []);
  return (
    <div
      ref={ref}
      style={{ position: "fixed", left: 0, top: 0, width: 1663, height: 838, background: "#ffffff" }}
    />
  );
}
